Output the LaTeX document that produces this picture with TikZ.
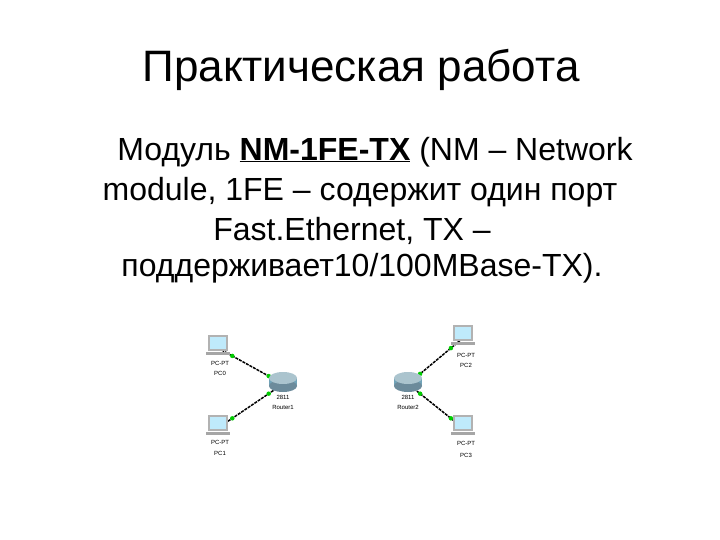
\documentclass[tikz,border=0pt]{standalone}
\usepackage{fontspec}
\setmainfont{Liberation Sans}
\usetikzlibrary{calc}
\begin{document}
\begin{tikzpicture}[x=1pt,y=-1pt,
  body/.style={font=\fontsize{32}{36}\selectfont,inner sep=0pt},
  lbl/.style={font=\fontsize{6}{6}\selectfont,inner sep=0pt},
  link/.style={black,line width=1.5pt,dash pattern=on 3pt off 1pt},
  dot/.style={circle,fill=green!80!black,inner sep=0pt,minimum size=4.5pt}]
\useasboundingbox (0,0) rectangle (720,540);
\node[font=\fontsize{44}{50}\selectfont,inner sep=0pt] (title) at (361,70) {Практическая работа};
\node[body] (l1) at (375,152) {Модуль \textbf{\underline{NM-1FE-TX}} (NM – Network};
\node[body] (l2) at (360,192) {module, 1FE – содержит один порт};
\node[body] (l3) at (352,231) {Fast.Ethernet, TX –};
\node[body] (l4) at (362,268) {поддерживает10/100MBase-TX).};
% devices
\newcommand{\pcicon}[2]{%
  \fill[gray!60] (#1-10,#2-11) rectangle (#1+10,#2+5);
  \fill[cyan!25!white] (#1-8,#2-9) rectangle (#1+8,#2+3);
  \fill[gray!70] (#1-12,#2+6) rectangle (#1+12,#2+9);}
\newcommand{\routericon}[2]{%
  \fill[cyan!40!gray] (#1-14,#2-4) rectangle (#1+14,#2+4);
  \fill[cyan!40!gray!80!black] (#1,#2+4) ellipse (14 and 6);
  \fill[cyan!30!gray!60!white] (#1,#2-4) ellipse (14 and 6);}
\coordinate (pc0) at (218,348);
\coordinate (pc1) at (218,428);
\coordinate (r1) at (283,384);
\coordinate (r2) at (408,384);
\coordinate (pc2) at (463,338);
\coordinate (pc3) at (463,428);
\draw[link] (pc0) -- (r1);
\draw[link] (pc1) -- (r1);
\draw[link] (pc2) -- (r2);
\draw[link] (pc3) -- (r2);
\node[dot] (d1) at ($(pc0)!0.22!(r1)$) {};
\node[dot] (d2) at ($(pc0)!0.78!(r1)$) {};
\node[dot] (d3) at ($(pc1)!0.22!(r1)$) {};
\node[dot] (d4) at ($(pc1)!0.78!(r1)$) {};
\node[dot] (d5) at ($(pc2)!0.22!(r2)$) {};
\node[dot] (d6) at ($(pc2)!0.78!(r2)$) {};
\node[dot] (d7) at ($(pc3)!0.22!(r2)$) {};
\node[dot] (d8) at ($(pc3)!0.78!(r2)$) {};
\pcicon{218}{346}
\pcicon{218}{426}
\pcicon{463}{336}
\pcicon{463}{426}
\routericon{283}{382}
\routericon{408}{382}
\node[lbl] (t0a) at (220,363) {PC-PT};
\node[lbl] (t0b) at (220,373) {PC0};
\node[lbl] (t1a) at (220,442) {PC-PT};
\node[lbl] (t1b) at (220,453) {PC1};
\node[lbl] (t2a) at (466,355) {PC-PT};
\node[lbl] (t2b) at (466,365) {PC2};
\node[lbl] (t3a) at (466,443) {PC-PT};
\node[lbl] (t3b) at (466,455) {PC3};
\node[lbl] (r1a) at (283,397) {2811};
\node[lbl] (r1b) at (283,407) {Router1};
\node[lbl] (r2a) at (408,397) {2811};
\node[lbl] (r2b) at (408,407) {Router2};
\end{tikzpicture}
\end{document}
